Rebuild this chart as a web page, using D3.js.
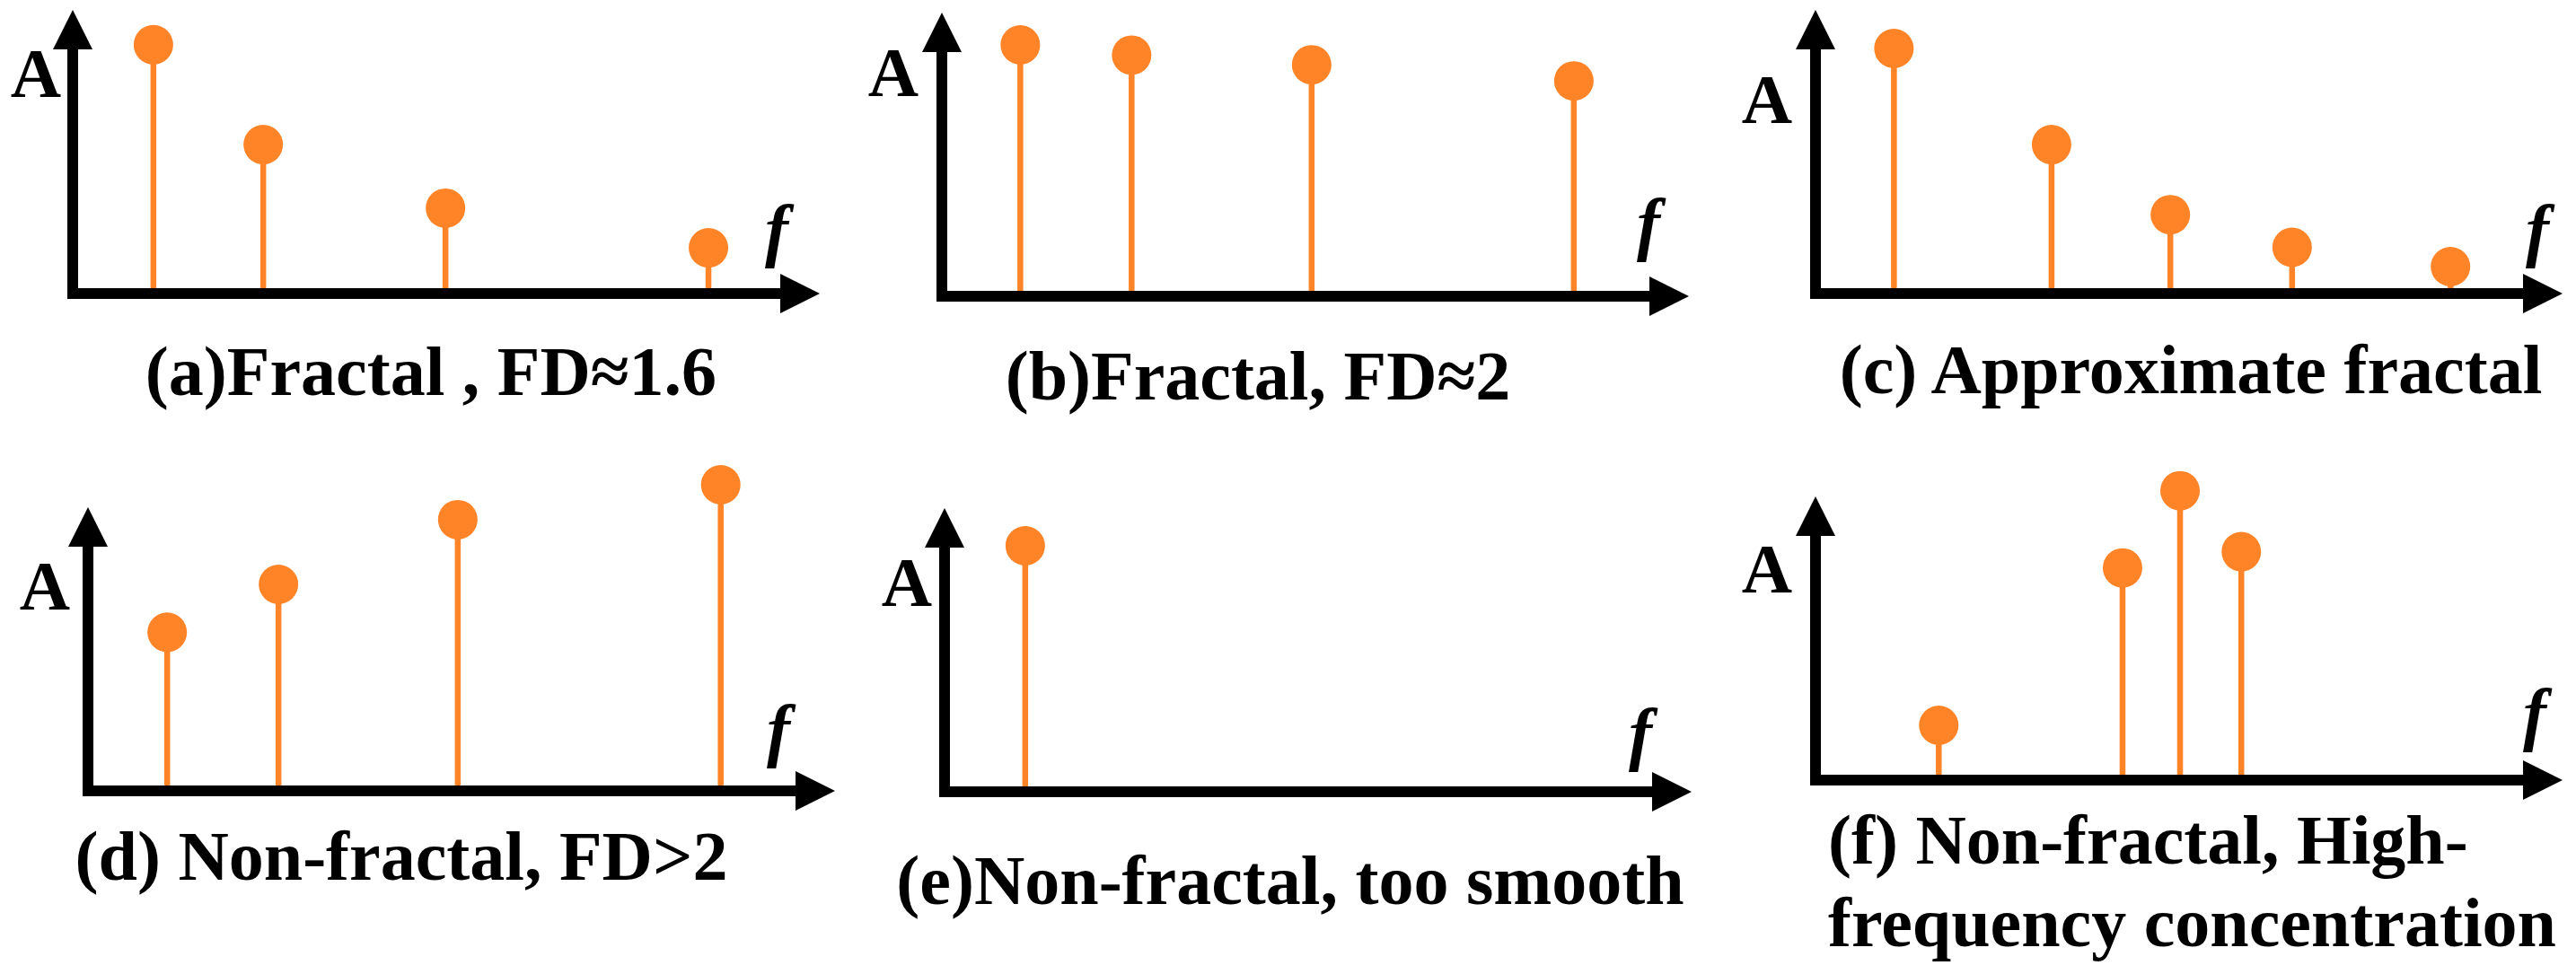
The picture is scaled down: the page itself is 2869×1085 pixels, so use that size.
<!DOCTYPE html>
<html>
<head>
<meta charset="utf-8">
<script src="https://cdn.jsdelivr.net/npm/d3@7"></script>
<style>
  html, body { margin: 0; padding: 0; background: #ffffff; }
  svg { display: block; }
  text { font-family: "Liberation Serif", "Times New Roman", serif; font-weight: bold; fill: #000; }
</style>
</head>
<body>
<svg id="chart" width="2869" height="1085"></svg>
<script>
// ---------------- data ----------------
const panelIds = ["a", "b", "c", "d", "e", "f"];
const captions = [
  ["(a)Fractal , FD\u22481.6"],
  ["(b)Fractal, FD\u22482"],
  ["(c) Approximate fractal"],
  ["(d) Non-fractal, FD>2"],
  ["(e)Non-fractal, too smooth"],
  ["(f) Non-fractal, High-", "frequency concentration"]
];
// frequency positions (0-100 along f axis) and amplitudes (0-100 along A axis)
const freqA = [10.8, 25.5, 49.9, 85.1];
const ampA  = [87.7, 52.5, 30.1, 16.1];
const freqB = [10.5, 25.4, 49.5, 84.6];
const ampB  = [88.6, 85.0, 81.6, 75.9];
const freqC = [10.5, 31.6, 47.5, 63.8, 85.0];
const ampC  = [86.4, 52.5, 27.8, 16.3, 9.5];
const freqD = [10.6, 25.5, 49.5, 84.7];
const ampD  = [55.9, 72.8, 95.6, 107.9];
const freqE = [10.8];
const ampE  = [86.7];
const freqF = [16.5, 41.1, 48.8, 57.0];
const ampF  = [19.3, 74.8, 102.0, 80.5];
const axisLabelY = "A";
const axisLabelX = "f";

const freqs = [freqA, freqB, freqC, freqD, freqE, freqF];
const amps  = [ampA, ampB, ampC, ampD, ampE, ampF];

// ---------------- layout ----------------
const W = 832, H = 316;           // axis lengths (origin to arrow tip)
const origins = [[81, 327], [1049, 330], [2022, 327], [98, 881], [1052, 882], [2022, 869]];
const aLabelPos = [[40, 108], [995, 107], [1968, 137], [50, 679], [1010, 675], [1968, 660]];
const fLabelPos = [[865, 282], [1836, 275], [2826, 282], [867, 839], [1827, 843], [2823, 821]];
const captionPos = [[480, 440, "middle"], [1401, 445, "middle"], [2440, 438, "middle"],
                    [447, 980, "middle"], [1437, 1007, "middle"], [2036, 962, "start"]];
const lineGap = 92;
const orange = "#FF8327";

const x = d3.scaleLinear().domain([0, 100]).range([0, W]);
const y = d3.scaleLinear().domain([0, 100]).range([0, -H]);

const svg = d3.select("#chart");

panelIds.forEach((id, i) => {
  const [ox, oy] = origins[i];
  const g = svg.append("g").attr("transform", `translate(${ox},${oy})`);
  const pts = freqs[i].map((f, k) => ({ f: f, a: amps[i][k] }));

  // stems
  g.selectAll("line.stem").data(pts).join("line")
    .attr("class", "stem")
    .attr("x1", d => x(d.f)).attr("x2", d => x(d.f))
    .attr("y1", 0).attr("y2", d => y(d.a))
    .attr("stroke", orange).attr("stroke-width", 6.5);

  // axes (L shape with arrowheads)
  const headL = 44, headW = 22;
  g.append("path")
    .attr("d", `M0,${-H + headL - 2} L0,0 L${W - headL + 2},0`)
    .attr("fill", "none").attr("stroke", "#000").attr("stroke-width", 12)
    .attr("stroke-linejoin", "miter").attr("stroke-linecap", "butt");
  g.append("path")
    .attr("d", `M0,${-H} L${-headW},${-H + headL} L${headW},${-H + headL} Z`)
    .attr("fill", "#000");
  g.append("path")
    .attr("d", `M${W},0 L${W - headL},${-headW} L${W - headL},${headW} Z`)
    .attr("fill", "#000");

  // dots
  g.selectAll("circle.dot").data(pts).join("circle")
    .attr("class", "dot")
    .attr("cx", d => x(d.f)).attr("cy", d => y(d.a))
    .attr("r", 22).attr("fill", orange);

  // axis labels
  svg.append("text")
    .attr("x", aLabelPos[i][0]).attr("y", aLabelPos[i][1])
    .attr("text-anchor", "middle").attr("font-size", 78)
    .text(axisLabelY);
  svg.append("text")
    .attr("x", fLabelPos[i][0]).attr("y", fLabelPos[i][1])
    .attr("text-anchor", "middle").attr("font-size", 78)
    .attr("font-style", "italic")
    .text(axisLabelX);

  // caption
  const [cx, cy, anchor] = captionPos[i];
  captions[i].forEach((line, k) => {
    svg.append("text")
      .attr("x", cx).attr("y", cy + k * lineGap)
      .attr("text-anchor", anchor).attr("font-size", 78)
      .text(line);
  });
});
</script>
</body>
</html>
